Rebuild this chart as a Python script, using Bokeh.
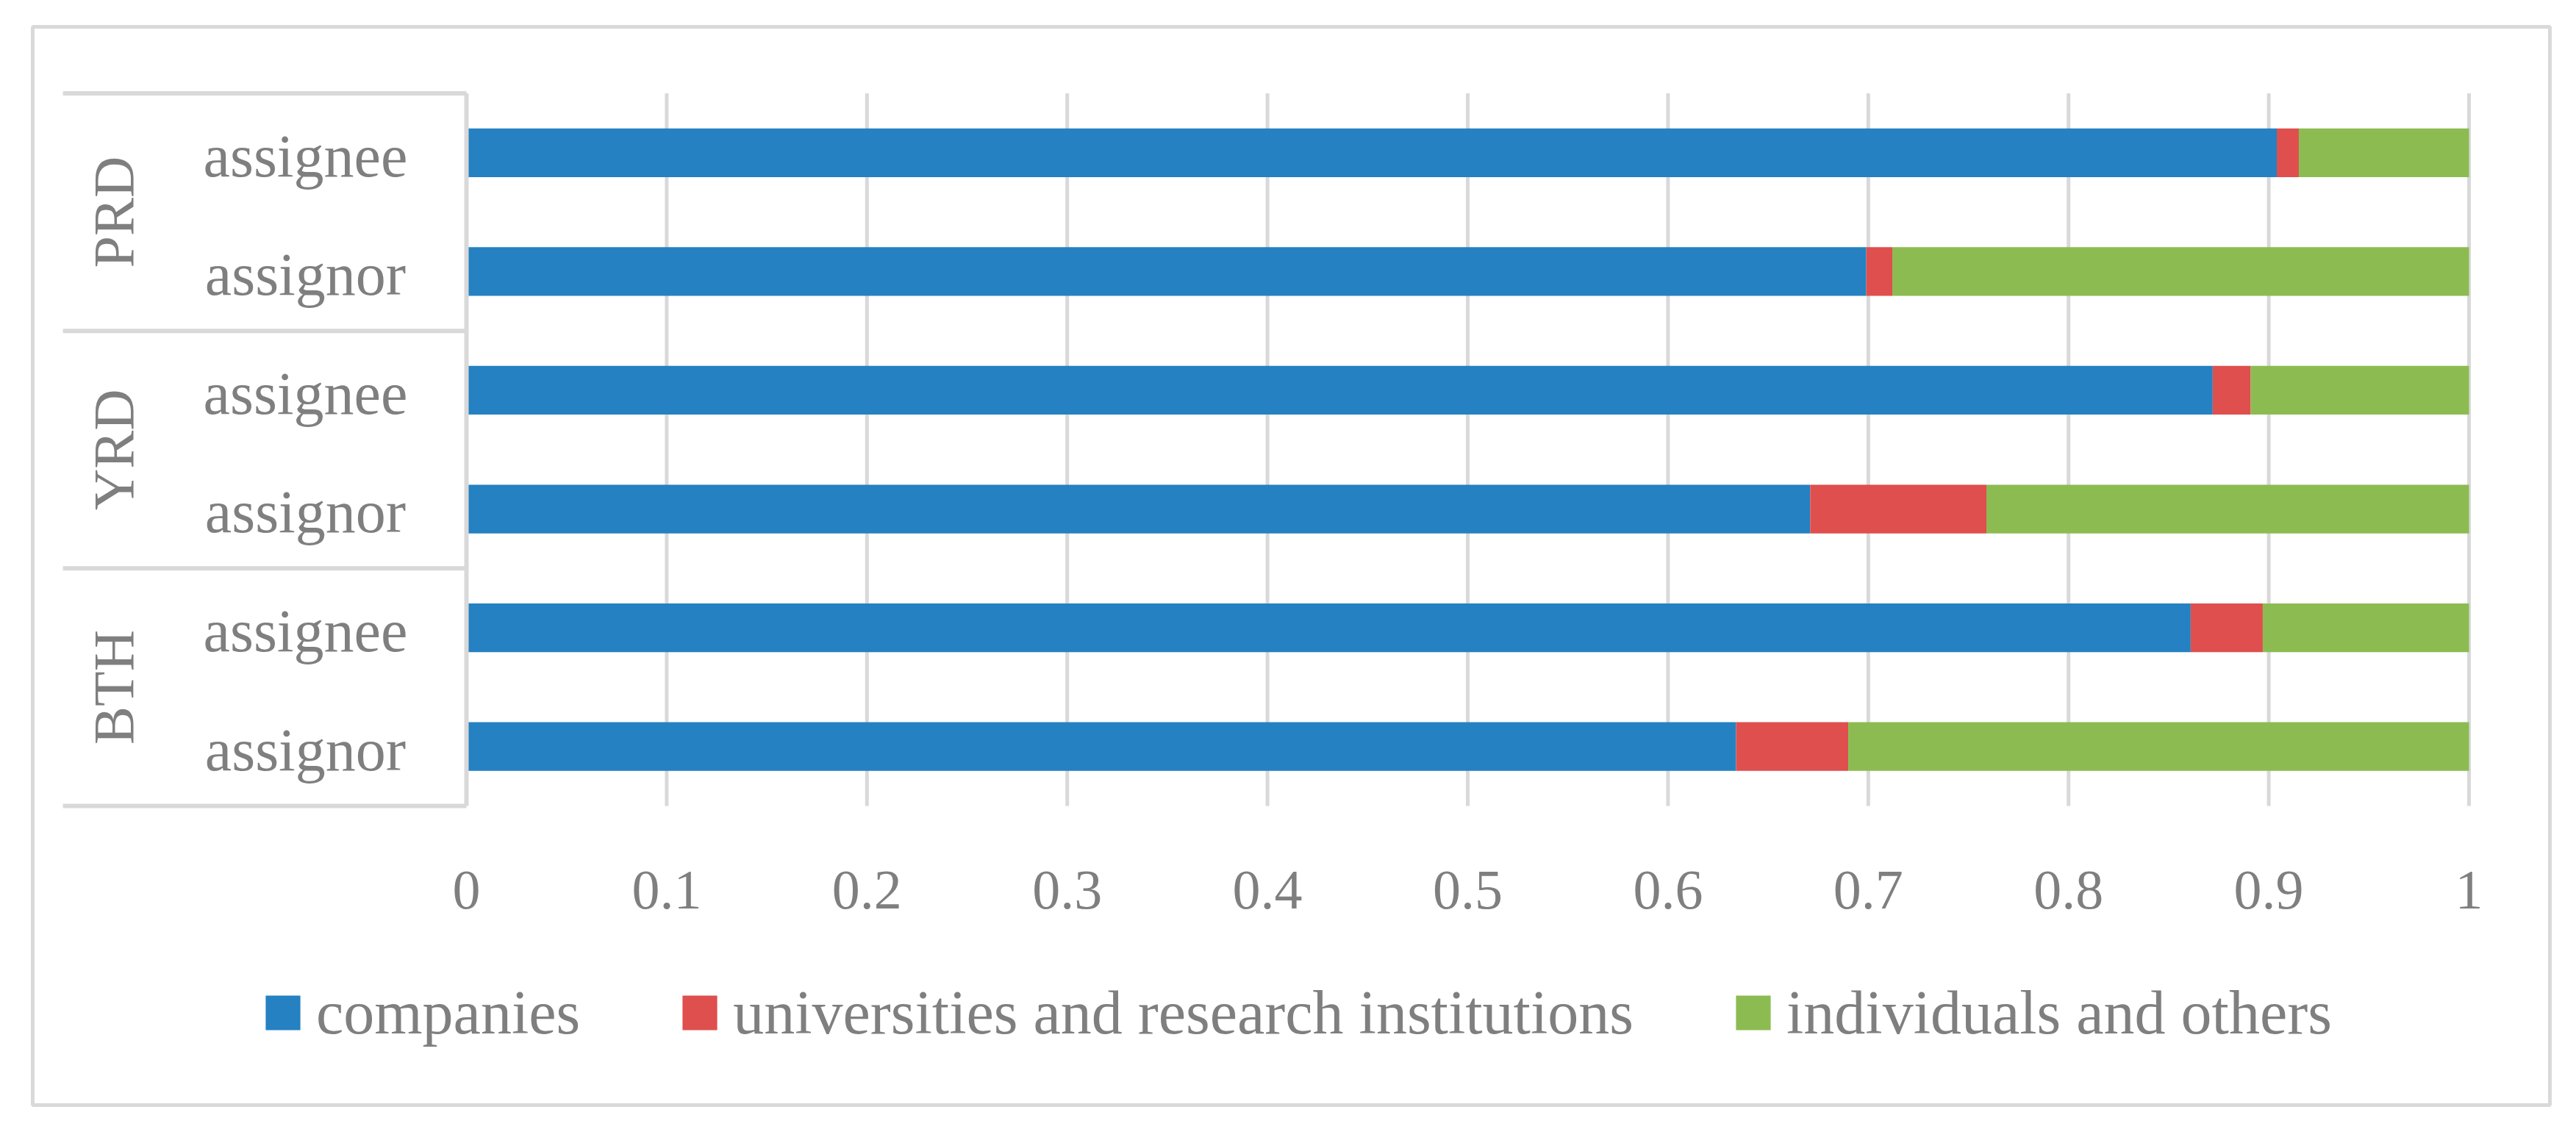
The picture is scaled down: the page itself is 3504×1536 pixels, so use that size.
from bokeh.plotting import figure
from bokeh.models import ColumnDataSource, Legend, LegendItem
from bokeh.core.properties import value
from bokeh.embed import file_html
from bokeh.resources import INLINE

# ---------------- data (rows listed bottom-to-top) ----------------
regions = ["BTH", "YRD", "PRD"]
roles = ["assignor", "assignee"]
series = ["companies", "universities and research institutions", "individuals and others"]
companies = [0.634, 0.861, 0.671, 0.872, 0.699, 0.904]
universities = [0.056, 0.036, 0.088, 0.019, 0.013, 0.011]
individuals = [0.310, 0.103, 0.241, 0.109, 0.288, 0.085]
x_ticks = [0.0, 0.1, 0.2, 0.3, 0.4, 0.5, 0.6, 0.7, 0.8, 0.9, 1.0]
x_tick_labels = ["0", "0.1", "0.2", "0.3", "0.4", "0.5", "0.6", "0.7", "0.8", "0.9", "1"]
colors = ["#2581C1", "#DE4F4E", "#8CBC51"]

# ---------------- derived table ----------------
row_region = [r for r in regions for _ in roles]
row_role = [role for _ in regions for role in roles]
ypos = list(range(len(row_role)))
src = ColumnDataSource(dict(y=ypos, companies=companies, universities=universities,
                            individuals=individuals, role=row_role))

FONT = value("Liberation Serif")
GREY = "#7f7f7f"
LINE = "#d9d9d9"

p = figure(width=3488, height=1520, title=None,
           x_range=(-0.21659, 1.04038), y_range=(-3.0189, 6.0602),
           x_axis_location=None, y_axis_location=None,
           toolbar_location=None, output_backend="svg",
           min_border_left=44, min_border_right=20,
           min_border_top=36, min_border_bottom=17,
           background_fill_color="white", border_fill_color="white",
           outline_line_color=LINE, outline_line_width=5)
p.xgrid.visible = False
p.ygrid.visible = False

lo, hi = ypos[0] - 0.5, ypos[-1] + 0.5

# vertical gridlines (from tick list)
p.segment(x0=x_ticks[1:], y0=[lo] * (len(x_ticks) - 1), x1=x_ticks[1:],
          y1=[hi] * (len(x_ticks) - 1), line_color=LINE, line_width=5)

# stacked bars
rends = p.hbar_stack(["companies", "universities", "individuals"], y="y", height=0.41,
                     color=colors, source=src, line_width=0)

# category table lines
group_edges = [lo + 2 * i for i in range(len(regions) + 1)]
p.segment(x0=[-0.2015] * len(group_edges), y0=group_edges, x1=[0] * len(group_edges),
          y1=group_edges, line_color=LINE, line_width=6)
p.segment(x0=[0], y0=[lo], x1=[0], y1=[hi], line_color=LINE, line_width=6)

# role labels
p.text(x=[-0.0804] * len(ypos), y=[y - 0.027 for y in ypos], text=row_role,
       text_font=FONT, text_font_size=value("82px"), text_color=GREY,
       text_align="center", text_baseline="alphabetic")

# group labels (rotated)
group_centers = [lo + 2 * i + 1 for i in range(len(regions))]
p.text(x=[-0.1762] * len(regions), y=group_centers, text=regions, angle=1.5708,
       text_font=FONT, text_font_size=value("78px"), text_color=GREY,
       text_align="center", text_baseline="alphabetic")

# x tick labels
p.text(x=x_ticks, y=[-1.207] * len(x_ticks), text=x_tick_labels,
       text_font=FONT, text_font_size=value("76px"), text_color=GREY,
       text_align="center", text_baseline="alphabetic")

legend = Legend(items=[LegendItem(label=s, renderers=[r]) for s, r in zip(series, rends)],
                orientation="horizontal", location=(311, 77),
                glyph_width=59, glyph_height=59, label_standoff=16, spacing=133,
                padding=0, margin=0, border_line_color=None, background_fill_alpha=0,
                label_text_font="Liberation Serif", label_text_font_size="84px",
                label_text_color=GREY)
p.add_layout(legend)

open("out.html", "w").write(file_html(p, INLINE))
